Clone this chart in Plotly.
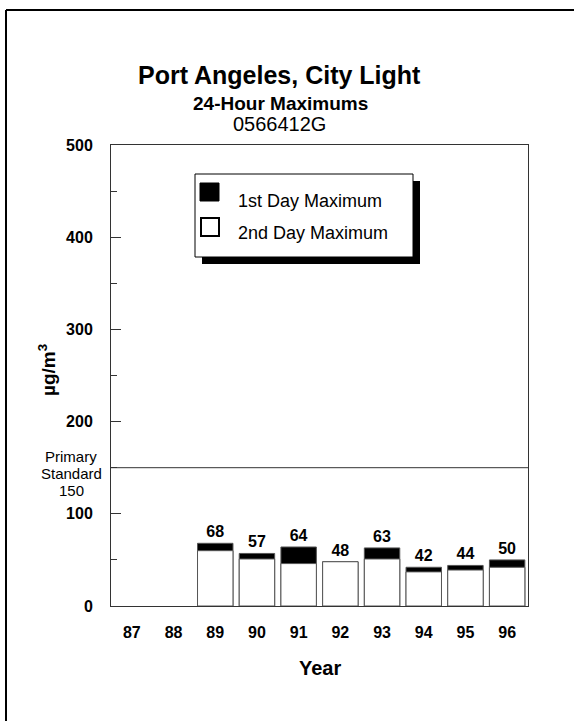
import plotly.graph_objects as go

years = ["87", "88", "89", "90", "91", "92", "93", "94", "95", "96"]
first_max = [None, None, 68, 57, 64, 48, 63, 42, 44, 50]
second_max = [None, None, 60, 51, 46, 48, 51, 37, 39, 42]

# plot area in pixels
L, R, T, B = 111, 528, 145, 606
W, H = 574, 721


def px(x):
    return (x - L) / (R - L)


def py(y):
    return (B - y) / (B - T)


fig = go.Figure()
fig.add_trace(go.Bar(
    x=years, y=first_max, name="1st Day Maximum",
    marker=dict(color="black", line=dict(color="#555555", width=1)),
    text=["" if v is None else str(v) for v in first_max],
    texttemplate="<b>%{text}</b>", textposition="outside",
    textfont=dict(family="Arial", size=16, color="black"),
    cliponaxis=False,
))
fig.add_trace(go.Bar(
    x=years, y=second_max, name="2nd Day Maximum",
    marker=dict(color="white", line=dict(color="#555555", width=1)),
))

shapes = []
# primary standard line
shapes.append(dict(type="line", xref="paper", yref="y", x0=0, x1=1, y0=150, y1=150,
                   line=dict(color="#333333", width=1)))
# outer frame (top and left)
shapes.append(dict(type="line", xref="paper", yref="paper", x0=px(6), x1=px(580), y0=py(10), y1=py(10),
                   line=dict(color="black", width=2)))
shapes.append(dict(type="line", xref="paper", yref="paper", x0=px(6), x1=px(6), y0=py(10), y1=py(730),
                   line=dict(color="black", width=2)))
# legend shadow and box
shapes.append(dict(type="rect", xref="paper", yref="paper", x0=px(202), x1=px(420), y0=py(181), y1=py(264),
                   fillcolor="black", line=dict(width=0)))
shapes.append(dict(type="rect", xref="paper", yref="paper", x0=px(195), x1=px(413), y0=py(174), y1=py(257),
                   fillcolor="white", line=dict(color="black", width=1)))
shapes.append(dict(type="rect", xref="paper", yref="paper", x0=px(200), x1=px(219), y0=py(183), y1=py(201),
                   fillcolor="black", line=dict(color="black", width=1)))
shapes.append(dict(type="rect", xref="paper", yref="paper", x0=px(201), x1=px(219), y0=py(218), y1=py(236),
                   fillcolor="white", line=dict(color="black", width=2)))


def ann(text, x, y, size, xanchor="center", angle=0):
    return dict(text=text, x=px(x), y=py(y), xref="paper", yref="paper",
                xanchor=xanchor, yanchor="middle", textangle=angle,
                showarrow=False, font=dict(family="Arial", size=size, color="black"))


annotations = [
    ann("<b>Port Angeles, City Light</b>", 279, 75, 25),
    ann("<b>24-Hour Maximums</b>", 280, 103, 19),
    ann("0566412G", 279, 124, 20),
    ann("1st Day Maximum", 236, 201, 18, xanchor="left"),
    ann("2nd Day Maximum", 236, 233, 18, xanchor="left"),
    ann("Primary", 71, 456, 15),
    ann("Standard", 71, 473, 15),
    ann("150", 71, 490, 15),
    ann("<b>µg/m<sup>3</sup></b>", 47, 370, 19, angle=-90),
    ann("<b>Year</b>", 320, 668, 20),
]

fig.update_layout(
    width=W, height=H,
    margin=dict(l=L, r=W - R, t=T, b=H - B),
    paper_bgcolor="white", plot_bgcolor="white",
    barmode="overlay", bargap=0.15,
    showlegend=False,
    shapes=shapes, annotations=annotations,
    font=dict(family="Arial", color="black"),
)
fig.update_xaxes(
    type="category", categoryorder="array", categoryarray=years,
    showline=True, linecolor="#333333", linewidth=1, mirror=True,
    showgrid=False, ticks="", ticklabelstandoff=12,
    tickfont=dict(family="Arial", size=16, color="black", weight="bold"),
)
fig.update_yaxes(
    range=[0, 500], tickvals=[0, 100, 200, 300, 400, 500],
    showline=True, linecolor="#333333", linewidth=1, mirror=True,
    showgrid=False, zeroline=False,
    ticks="inside", ticklen=10, tickcolor="#333333",
    minor=dict(tickvals=[50, 150, 250, 350, 450], ticks="inside", ticklen=6, tickcolor="#333333"),
    ticklabelstandoff=14,
    tickfont=dict(family="Arial", size=16, color="black", weight="bold"),
)

fig.write_html("out.html", config={"displayModeBar": False},
               post_script="document.body.style.margin='0px';")
